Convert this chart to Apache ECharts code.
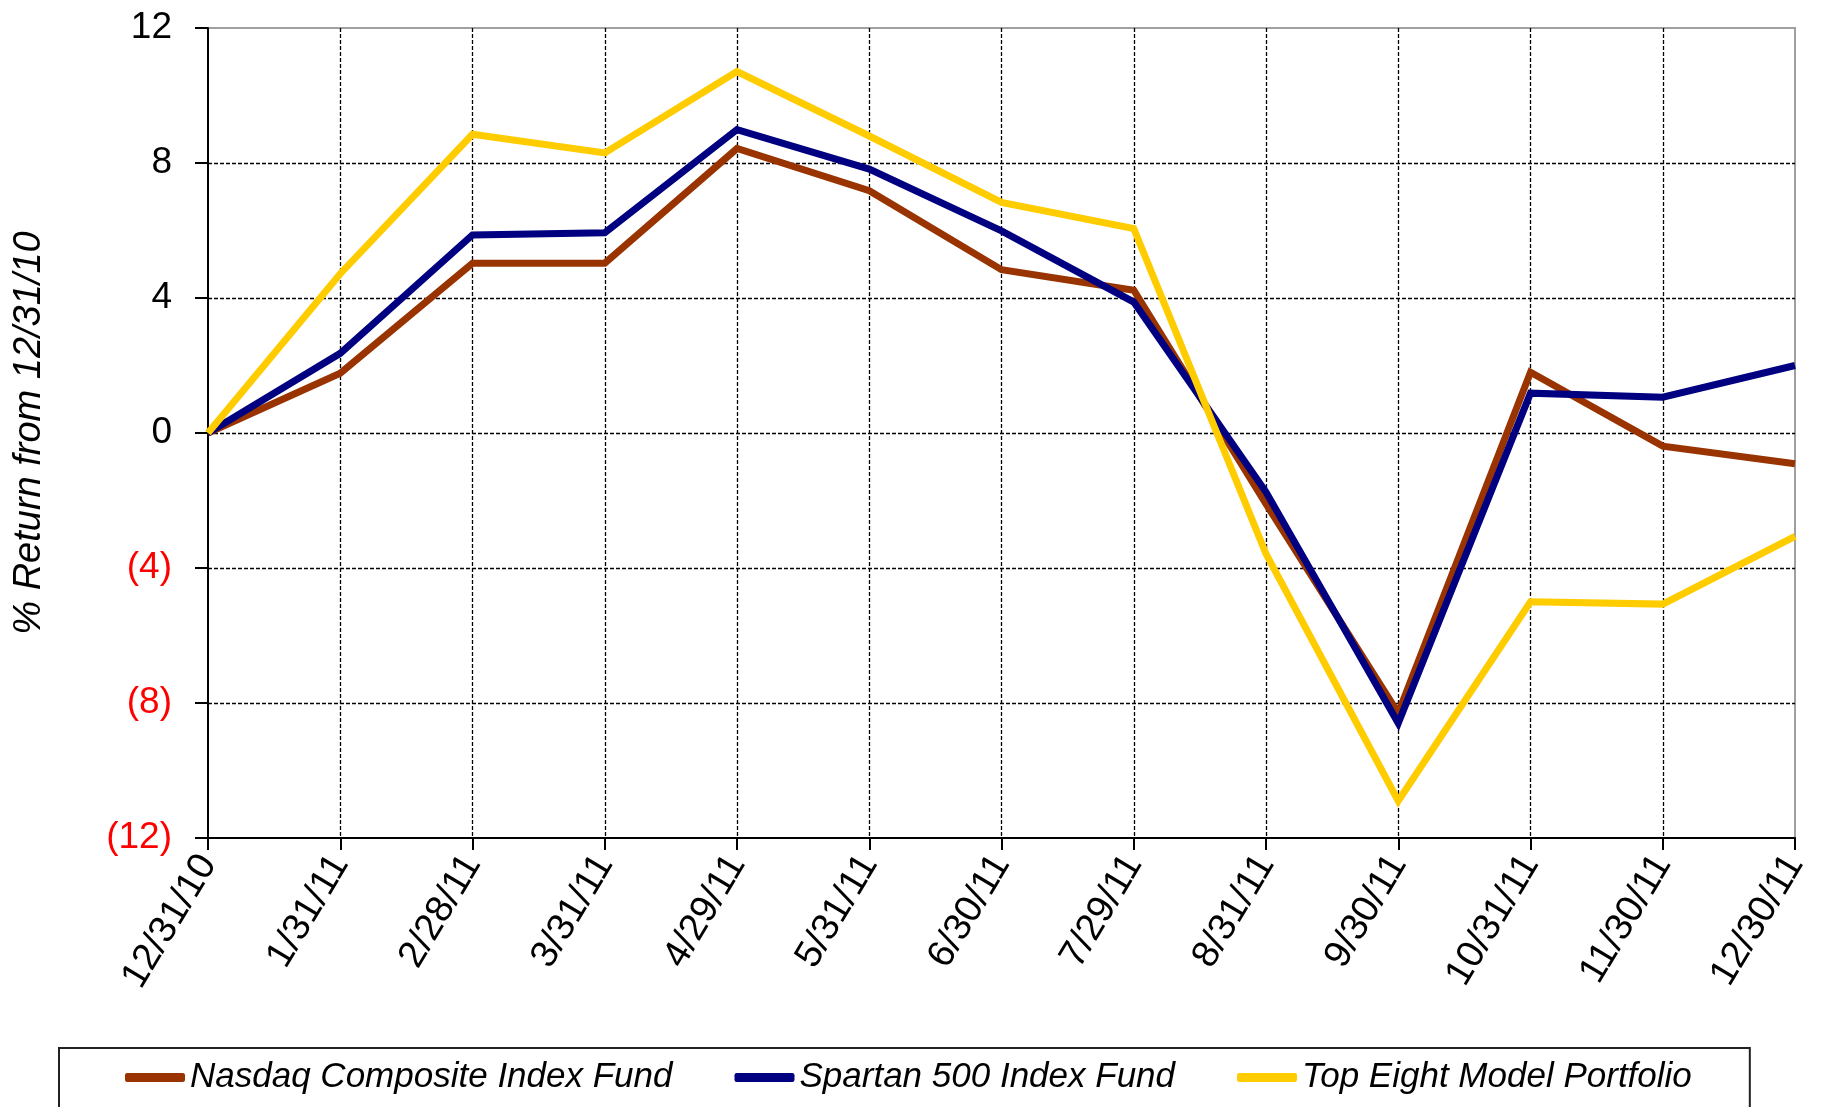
<!DOCTYPE html>
<html>
<head>
<meta charset="utf-8">
<title>% Return from 12/31/10</title>
<script src="https://cdn.jsdelivr.net/npm/echarts@6/dist/echarts.min.js"></script>
<style>
html, body { margin: 0; padding: 0; background: #fff; }
#chart { width: 1828px; height: 1107px; }
</style>
</head>
<body>
<div id="chart"></div>
<script>
var dates = ['12/31/10', '1/31/11', '2/28/11', '3/31/11', '4/29/11', '5/31/11', '6/30/11',
	'7/29/11', '8/31/11', '9/30/11', '10/31/11', '11/30/11', '12/30/11'];
var nasdaq = [0, 1.77, 5.03, 5.03, 8.43, 7.18, 4.84, 4.23, -2.1, -8.3, 1.8, -0.39, -0.91];
var spartan = [0, 2.36, 5.87, 5.93, 8.99, 7.82, 5.99, 3.88, -1.75, -8.6, 1.18, 1.06, 2.0];
var topEight = [0, 4.72, 8.85, 8.30, 10.71, 8.80, 6.83, 6.06, -3.58, -10.9, -5.0, -5.07, -3.06];
var names = ['Nasdaq Composite Index Fund', 'Spartan 500 Index Fund', 'Top Eight Model Portfolio'];
var colors = ['#993300', '#000080', '#ffcc00'];

var font = "'Liberation Sans', Arial, sans-serif";

function makeLine(name, data, color) {
	return {
		name: name,
		type: 'line',
		data: data,
		showSymbol: false,
		symbol: 'none',
		color: color,
		lineStyle: { width: 7, color: color, join: 'miter', cap: 'butt' }
	};
}

var myChart = echarts.init(document.getElementById('chart'));
var option = {
	animation: false,
	backgroundColor: '#fff',
	textStyle: { fontFamily: font },
	grid: {
		left: 208, right: 33, top: 28, bottom: 269,
		show: true, borderColor: '#a0a0a0', borderWidth: 2
	},
	legend: {
		left: 59,
		top: 1048,
		padding: [12, 58, 60, 66],
		itemGap: 62,
		itemWidth: 60,
		itemHeight: 9,
		icon: 'roundRect',
		borderColor: '#222',
		borderWidth: 2,
		textStyle: { fontSize: 35, fontStyle: 'italic', color: '#000', fontFamily: font },
		data: names
	},
	xAxis: {
		type: 'category',
		data: dates,
		boundaryGap: false,
		axisLine: { onZero: false, lineStyle: { color: '#000', width: 2 } },
		axisTick: { show: true, length: 12, lineStyle: { color: '#000', width: 2 }, alignWithLabel: true },
		axisLabel: { interval: 0, rotate: 59, fontSize: 38, color: '#000', margin: 20, fontFamily: font },
		splitLine: { show: true, showMinLine: false, showMaxLine: false, lineStyle: { color: '#000', width: 1.3, type: [4, 2] } }
	},
	yAxis: {
		type: 'value',
		min: -12,
		max: 12,
		interval: 4,
		name: '% Return from 12/31/10',
		nameLocation: 'middle',
		nameRotate: 90,
		nameGap: 160,
		nameTextStyle: { fontSize: 38, fontStyle: 'italic', color: '#000', fontFamily: font },
		axisLine: { show: true, lineStyle: { color: '#000', width: 2 } },
		axisTick: { show: true, length: 13, lineStyle: { color: '#000', width: 2 } },
		axisLabel: {
			fontSize: 37,
			margin: 36,
			color: '#000',
			fontFamily: font,
			formatter: function (v) {
				if (v < 0) return '{neg|(' + (-v) + ')}';
				return '' + v;
			},
			rich: { neg: { color: '#ff0000', fontSize: 37, fontFamily: font } }
		},
		splitLine: { show: true, showMinLine: false, showMaxLine: false, lineStyle: { color: '#000', width: 1.3, type: [4, 2] } }
	},
	series: [
		makeLine(names[0], nasdaq, colors[0]),
		makeLine(names[1], spartan, colors[1]),
		makeLine(names[2], topEight, colors[2])
	]
};
myChart.setOption(option);
</script>
</body>
</html>
